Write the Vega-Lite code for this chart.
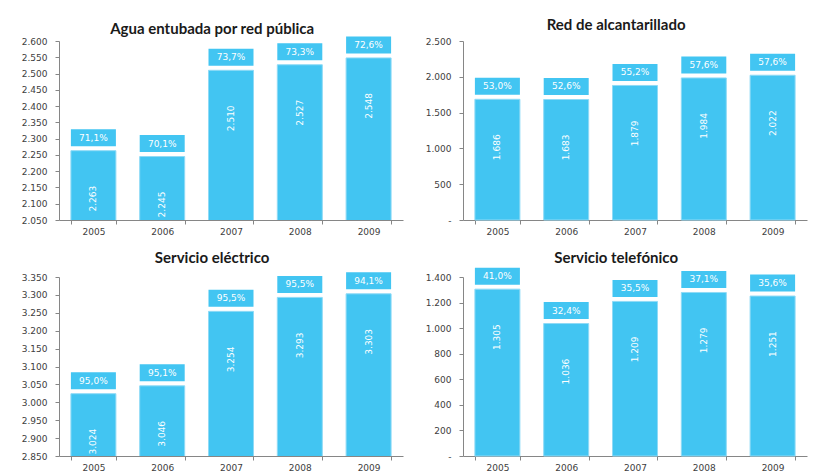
{
  "$schema": "https://vega.github.io/schema/vega-lite/v6.json",
  "background": "white",
  "padding": {"left": 21, "top": 18, "right": 5, "bottom": 2},
  "config": {
    "locale": {"number": {"decimal": ",", "thousands": ".", "grouping": [3], "currency": ["", " €"]}},
    "view": {"stroke": null},
    "axis": {"labelFont": "DejaVu Sans", "labelFontSize": 9, "labelColor": "#404040", "domainColor": "#868686", "tickColor": "#868686", "tickSize": 4, "grid": false, "title": null},
    "axisY": {"labelPadding": 8},
    "axisX": {"labelPadding": 3, "labelAngle": 0, "tickBand": "extent"},
    "title": {"font": "Lato", "fontSize": 15, "fontWeight": "bold", "color": "#1a1a1a", "anchor": "middle", "frame": "bounds", "offset": 2},
    "text": {"font": "DejaVu Sans", "fontSize": 9, "color": "white"}
  },
  "datasets": {
    "agua": [
      {"year": "2005", "value": 2263, "pct": 0.711},
      {"year": "2006", "value": 2245, "pct": 0.701},
      {"year": "2007", "value": 2510, "pct": 0.737},
      {"year": "2008", "value": 2527, "pct": 0.733},
      {"year": "2009", "value": 2548, "pct": 0.726}
    ],
    "alcant": [
      {"year": "2005", "value": 1686, "pct": 0.530},
      {"year": "2006", "value": 1683, "pct": 0.526},
      {"year": "2007", "value": 1879, "pct": 0.552},
      {"year": "2008", "value": 1984, "pct": 0.576},
      {"year": "2009", "value": 2022, "pct": 0.576}
    ],
    "elec": [
      {"year": "2005", "value": 3024, "pct": 0.950},
      {"year": "2006", "value": 3046, "pct": 0.951},
      {"year": "2007", "value": 3254, "pct": 0.955},
      {"year": "2008", "value": 3293, "pct": 0.955},
      {"year": "2009", "value": 3303, "pct": 0.941}
    ],
    "tel": [
      {"year": "2005", "value": 1305, "pct": 0.410},
      {"year": "2006", "value": 1036, "pct": 0.324},
      {"year": "2007", "value": 1209, "pct": 0.355},
      {"year": "2008", "value": 1279, "pct": 0.371},
      {"year": "2009", "value": 1251, "pct": 0.356}
    ]
  },
  "spacing": 14,
  "vconcat": [
    {
      "spacing": 22,
      "hconcat": [
        {
          "title": {"text": "Agua entubada por red pública", "offset": -1},
          "width": 344, "height": 179,
          "data": {"name": "agua"},
          "encoding": {
            "x": {"field": "year", "type": "nominal", "scale": {"paddingInner": 0.346, "paddingOuter": 0.173}},
            "y": {"field": "value", "type": "quantitative", "scale": {"domain": [2050, 2600], "nice": false, "zero": false},
                  "axis": {"values": [2050, 2100, 2150, 2200, 2250, 2300, 2350, 2400, 2450, 2500, 2550, 2600], "format": ",.0f"}}
          },
          "layer": [
            {"mark": {"type": "bar", "color": "#42C5F2", "stroke": "#8fdaf6", "strokeWidth": 1, "clip": true}},
            {"mark": {"type": "tick", "color": "#42C5F2", "opacity": 1, "size": 45, "thickness": 17, "yOffset": -13}},
            {"mark": {"type": "text", "dy": -13, "baseline": "middle"}, "encoding": {"text": {"field": "pct", "type": "quantitative", "format": ".1%"}}},
            {"mark": {"type": "text", "angle": 270, "dx": -48, "baseline": "middle", "align": "center"}, "encoding": {"text": {"field": "value", "type": "quantitative", "format": ",.0f"}}}
          ]
        },
        {
          "title": {"text": "Red de alcantarillado", "offset": 3.6},
          "width": 344, "height": 179,
          "data": {"name": "alcant"},
          "encoding": {
            "x": {"field": "year", "type": "nominal", "scale": {"paddingInner": 0.346, "paddingOuter": 0.173}},
            "y": {"field": "value", "type": "quantitative", "scale": {"domain": [0, 2500], "nice": false},
                  "axis": {"values": [0, 500, 1000, 1500, 2000, 2500], "format": ",.0f", "labelExpr": "datum.value == 0 ? '-' : datum.label"}}
          },
          "layer": [
            {"mark": {"type": "bar", "color": "#42C5F2", "stroke": "#8fdaf6", "strokeWidth": 1}},
            {"mark": {"type": "tick", "color": "#42C5F2", "opacity": 1, "size": 45, "thickness": 17, "yOffset": -13}},
            {"mark": {"type": "text", "dy": -13, "baseline": "middle"}, "encoding": {"text": {"field": "pct", "type": "quantitative", "format": ".1%"}}},
            {"mark": {"type": "text", "angle": 270, "dx": -48, "baseline": "middle", "align": "center"}, "encoding": {"text": {"field": "value", "type": "quantitative", "format": ",.0f"}}}
          ]
        }
      ]
    },
    {
      "spacing": 22,
      "hconcat": [
        {
          "title": {"text": "Servicio eléctrico", "offset": 6.7},
          "width": 344, "height": 179,
          "data": {"name": "elec"},
          "encoding": {
            "x": {"field": "year", "type": "nominal", "scale": {"paddingInner": 0.346, "paddingOuter": 0.173}},
            "y": {"field": "value", "type": "quantitative", "scale": {"domain": [2850, 3350], "nice": false, "zero": false},
                  "axis": {"values": [2850, 2900, 2950, 3000, 3050, 3100, 3150, 3200, 3250, 3300, 3350], "format": ",.0f"}}
          },
          "layer": [
            {"mark": {"type": "bar", "color": "#42C5F2", "stroke": "#8fdaf6", "strokeWidth": 1, "clip": true}},
            {"mark": {"type": "tick", "color": "#42C5F2", "opacity": 1, "size": 45, "thickness": 17, "yOffset": -13}},
            {"mark": {"type": "text", "dy": -13, "baseline": "middle"}, "encoding": {"text": {"field": "pct", "type": "quantitative", "format": ".1%"}}},
            {"mark": {"type": "text", "angle": 270, "dx": -48, "baseline": "middle", "align": "center"}, "encoding": {"text": {"field": "value", "type": "quantitative", "format": ",.0f"}}}
          ]
        },
        {
          "title": {"text": "Servicio telefónico", "offset": 2},
          "width": 344, "height": 179,
          "data": {"name": "tel"},
          "encoding": {
            "x": {"field": "year", "type": "nominal", "scale": {"paddingInner": 0.346, "paddingOuter": 0.173}},
            "y": {"field": "value", "type": "quantitative", "scale": {"domain": [0, 1400], "nice": false},
                  "axis": {"values": [0, 200, 400, 600, 800, 1000, 1200, 1400], "format": ",.0f", "labelExpr": "datum.value == 0 ? '-' : datum.label"}}
          },
          "layer": [
            {"mark": {"type": "bar", "color": "#42C5F2", "stroke": "#8fdaf6", "strokeWidth": 1}},
            {"mark": {"type": "tick", "color": "#42C5F2", "opacity": 1, "size": 45, "thickness": 17, "yOffset": -13}},
            {"mark": {"type": "text", "dy": -13, "baseline": "middle"}, "encoding": {"text": {"field": "pct", "type": "quantitative", "format": ".1%"}}},
            {"mark": {"type": "text", "angle": 270, "dx": -48, "baseline": "middle", "align": "center"}, "encoding": {"text": {"field": "value", "type": "quantitative", "format": ",.0f"}}}
          ]
        }
      ]
    }
  ]
}
